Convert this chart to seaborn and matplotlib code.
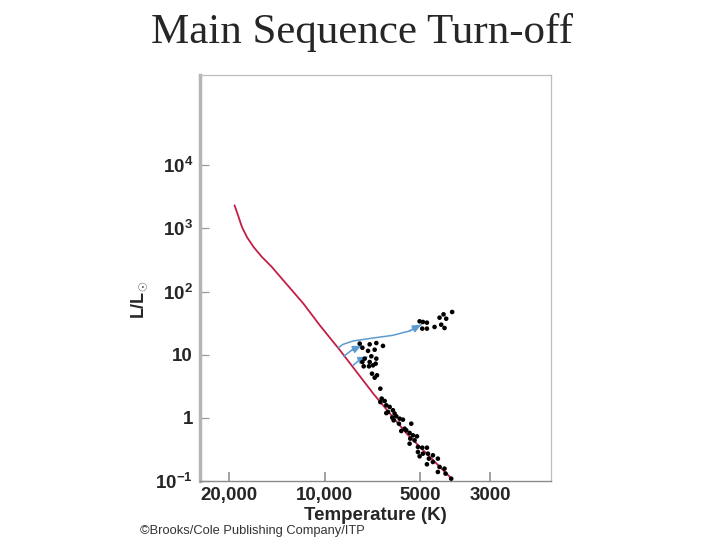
import matplotlib
matplotlib.use('Agg')
import matplotlib.pyplot as plt
import seaborn as sns
import pandas as pd
from matplotlib.ticker import FixedLocator, NullLocator, FixedFormatter

# ---------------- data ----------------
# zero-age main sequence line (red)
zams_temp = [19250, 18690, 18240, 17590, 16760, 15770, 14670, 13640, 12680,
             11660, 10325, 8929, 7013, 5500, 3967]
zams_lum = [2325, 1518, 1054, 731, 508, 353, 245, 160, 105,
            64.4, 28.8, 11.7, 2.42, 0.562, 0.109]

# turn-off clump stars
turnoff_temp = [7742, 7200, 6859, 6535, 7593, 7287, 6943, 7113, 7465, 6859,
                7593, 7200, 7027, 6892, 7520, 7235, 7079, 6826, 6943, 6662]
turnoff_lum = [15.0, 14.6, 15.3, 13.8, 12.9, 11.5, 12.0, 9.44, 8.67, 8.67,
               7.67, 7.67, 6.79, 7.22, 6.55, 6.55, 5.01, 4.72, 4.33, 2.90]

# giant clump stars
giant_temp = [5006, 4887, 4747, 4911, 4747, 4490, 4330, 4206, 4125, 3950, 4278, 4176]
giant_lum = [33.8, 33.0, 32.2, 25.9, 25.9, 27.5, 38.6, 43.6, 37.2, 47.5, 29.9, 26.5]

# main-sequence stars
ms_temp = [6598, 6456, 6662, 6379, 6226, 6302, 6078, 6004, 6379, 6107, 5932,
           6048, 5790, 5652, 5818, 5319, 5583, 5516, 5721, 5384, 5255, 5104,
           5358, 5192, 5384, 5067, 4911, 4747, 5067, 4887, 4712, 4544, 5006,
           4679, 4383, 4747, 4544, 4330, 4176, 4383, 4145, 3978]
ms_lum = [2.02, 1.85, 1.78, 1.58, 1.49, 1.24, 1.32, 1.17, 1.19, 1.01, 1.06,
          0.914, 0.971, 0.936, 0.809, 0.809, 0.674, 0.635, 0.619, 0.576, 0.529, 0.510,
          0.469, 0.441, 0.390, 0.346, 0.337, 0.337, 0.288, 0.271, 0.271, 0.255, 0.246,
          0.226, 0.226, 0.184, 0.200, 0.167, 0.157, 0.139, 0.131, 0.109]

# evolutionary tracks (blue arrows)
track1_temp = [9063, 8740, 8124, 7027, 6078, 5384, 4948]
track1_lum = [12.9, 14.6, 16.5, 18.4, 20.3, 23.8, 29.9]
track2_temp = [8698, 8225, 7649]
track2_lum = [9.44, 11.7, 13.9]
track3_temp = [8124, 7780, 7341]
track3_lum = [6.79, 8.15, 9.21]

x_ticks = [20000, 10000, 5000, 3000]
x_tick_labels = ['20,000', '10,000', '5000', '3000']
y_ticks = [0.1, 1, 10, 100, 1000, 10000]
y_tick_labels = [r'$10^{-1}$', '1', '10', r'$10^{2}$', r'$10^{3}$', r'$10^{4}$']

# ---------------- style ----------------
sns.set_style('white')
plt.rcParams['font.family'] = ['Liberation Sans', 'DejaVu Sans']
plt.rcParams['mathtext.fontset'] = 'custom'
plt.rcParams['mathtext.rm'] = 'Liberation Sans:bold'
plt.rcParams['mathtext.it'] = 'Liberation Sans:bold'
plt.rcParams['mathtext.bf'] = 'Liberation Sans:bold'

fig = plt.figure(figsize=(7.2, 5.4), dpi=100)
ax = fig.add_axes([200/720, 1-481/540, 351/720, 406/540])

stars = pd.DataFrame({
    'temp': turnoff_temp + giant_temp + ms_temp,
    'lum': turnoff_lum + giant_lum + ms_lum,
})
zams = pd.DataFrame({'temp': zams_temp, 'lum': zams_lum})

sns.lineplot(data=zams, x='temp', y='lum', sort=False, color='#c41e45',
             linewidth=1.3, ax=ax, zorder=2)

blue = '#5b9bd0'
for tt, ll in [(track1_temp, track1_lum), (track2_temp, track2_lum), (track3_temp, track3_lum)]:
    sns.lineplot(x=tt, y=ll, sort=False, color=blue, linewidth=1.1, ax=ax, zorder=3)
    ax.annotate('', xy=(tt[-1], ll[-1]), xytext=(tt[-2], ll[-2]),
                arrowprops=dict(arrowstyle='-|>,head_length=0.5,head_width=0.22',
                                color=blue, lw=1.1, shrinkA=0, shrinkB=0), zorder=3)

sns.scatterplot(data=stars, x='temp', y='lum', color='black', s=11,
                edgecolor='none', ax=ax, zorder=4)

ax.set_xscale('log')
ax.set_yscale('log')
ax.set_xlim(24750, 1924)
ax.set_ylim(0.1, 10**5.43)

ax.xaxis.set_major_locator(FixedLocator(x_ticks))
ax.xaxis.set_major_formatter(FixedFormatter(x_tick_labels))
ax.xaxis.set_minor_locator(NullLocator())
ax.yaxis.set_major_locator(FixedLocator(y_ticks))
ax.yaxis.set_major_formatter(FixedFormatter(y_tick_labels))
ax.yaxis.set_minor_locator(NullLocator())

ax.tick_params(axis='x', direction='in', length=6.5, width=1.3, color='#999999',
               pad=4, labelsize=13.5, bottom=True)
ax.tick_params(axis='y', direction='in', length=6.5, width=0.9, color='#999999',
               pad=5, labelsize=13.5, left=True)
for lab in ax.get_xticklabels() + ax.get_yticklabels():
    lab.set_fontweight('bold')

ax.spines['left'].set_color('#b5b5b5')
ax.spines['left'].set_linewidth(2.5)
ax.spines['bottom'].set_color('#8a8a8a')
ax.spines['bottom'].set_linewidth(1.0)
ax.spines['top'].set_color('#bdbdbd')
ax.spines['top'].set_linewidth(0.9)
ax.spines['right'].set_color('#bdbdbd')
ax.spines['right'].set_linewidth(0.9)

ax.set_xlabel('Temperature (K)', fontsize=13.5, fontweight='bold')
ax.xaxis.set_label_coords(0.5, -0.063)
ax.set_ylabel(r'L/L$_{\odot}$', fontsize=13, fontweight='bold')
ax.yaxis.set_label_coords(-0.145, 0.446)

fig.text(362/720, 1-32/540, 'Main Sequence Turn-off', ha='center', va='center',
         family='Liberation Serif', fontsize=31)
fig.text(140/720, 1-531/540, '\u00a9Brooks/Cole Publishing Company/ITP',
         ha='left', va='center', fontsize=9.3, color='#333333')

fig.savefig('out.png', dpi=100, facecolor='white')
